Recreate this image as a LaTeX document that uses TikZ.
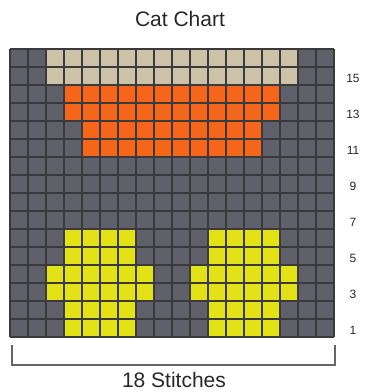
\documentclass[tikz,border=0pt]{standalone}
\usepackage{fontspec}
\setmainfont{Liberation Sans}
\definecolor{bg}{RGB}{96,96,106}
\definecolor{gline}{RGB}{58,58,60}
\definecolor{beige}{RGB}{204,194,168}
\definecolor{orng}{RGB}{246,102,26}
\definecolor{yel}{RGB}{226,226,22}
\definecolor{txt}{RGB}{40,40,40}
\begin{document}
\begin{tikzpicture}[x=1pt,y=-1pt,
  gridline/.style={draw=gline,line width=1.2pt},
  lab/.style={font=\fontsize{12}{14}\selectfont,text=txt,inner sep=0pt},
  bigtext/.style={font=\fontsize{21}{24}\selectfont,text=txt,inner sep=0pt},
  bracket/.style={draw=gray!80!black,line width=1.6pt}]
\useasboundingbox (0,0) rectangle (365,392);
\fill[bg] (10,49) rectangle (334,337);
\foreach \r/\a/\b/\c in {16/3/16/beige,15/3/16/beige,
  14/4/15/orng,13/4/15/orng,12/5/14/orng,11/5/14/orng,
  6/4/7/yel,5/4/7/yel,4/3/8/yel,3/3/8/yel,2/4/7/yel,1/4/7/yel,
  6/12/15/yel,5/12/15/yel,4/11/16/yel,3/11/16/yel,2/12/15/yel,1/12/15/yel}
  \fill[\c] ({10+18*(\a-1)},{337-18*\r}) rectangle ({10+18*\b},{337-18*(\r-1)});
\foreach \i in {0,...,18}
  \draw[gridline] ({10+18*\i},49) -- ({10+18*\i},337);
\foreach \j in {0,...,16}
  \draw[gridline] (10,{49+18*\j}) -- (334,{49+18*\j});
\foreach \n in {1,3,...,15}
  \node[lab] (l\n) at (353,{337-18*\n+11}) {\n};
\node[bigtext] (title) at (180,19) {Cat Chart};
\coordinate (bl) at (12,345);
\coordinate (br) at (335,345);
\draw[bracket] (bl) -- ++(0,20) -| (br);
\node[bigtext] (st) at (174,380) {18 Stitches};
\end{tikzpicture}
\end{document}
